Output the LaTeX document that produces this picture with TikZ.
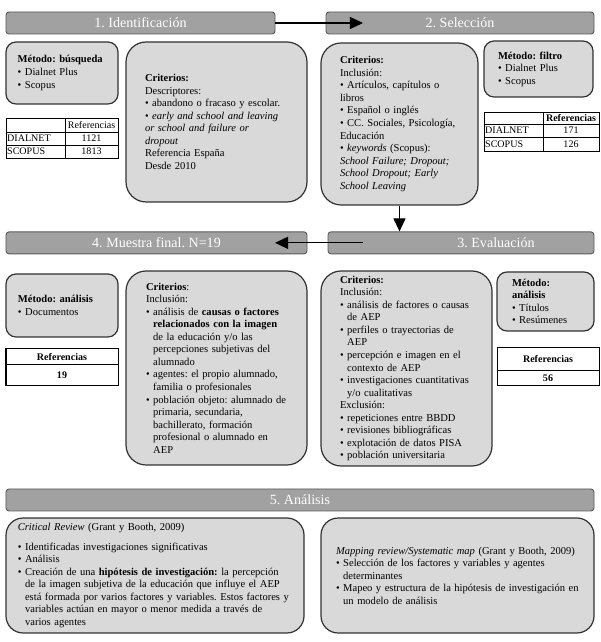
\documentclass[tikz,border=0pt]{standalone}
\usepackage{fontspec}
\setmainfont{Liberation Serif}
\usetikzlibrary{arrows.meta}
\frenchspacing

\newcommand{\bul}{\textbullet\ }
\newcommand{\ind}{\phantom{\textbullet}\ }

\begin{document}
\begin{tikzpicture}[font=\fontsize{10.5}{12.5}\selectfont,
  header/.style={draw=black!65,fill=black!37,rounded corners=3pt,line width=0.9pt,
    text=white,font=\fontsize{14}{16}\selectfont,minimum height=0.77cm,inner sep=0pt},
  panel/.style={draw=black!80,fill=black!15,line width=1.2pt,align=left,inner sep=0pt},
  metbox/.style={panel,rounded corners=10pt},
  critbox/.style={panel,rounded corners=20pt},
  sumbox/.style={panel,rounded corners=17pt},
  flow/.style={line width=1.1pt,-{Triangle[length=13pt,width=12pt]}},
  reftab/.style={line width=0.7pt},
  cell/.style={font=\fontsize{10}{12}\selectfont,inner sep=1pt}]
\useasboundingbox (0,0) rectangle (21,22.47);

% Step headers, in the order the review runs through them.
\node[header,minimum width=9.415cm] (h1) at (4.9175,21.665) {1. Identificación};
\node[header,minimum width=9.38cm] (h2) at (16.1,21.665) {2. Selección};
\node[header,minimum width=9.31cm] (h3) at (16.135,13.97) {\hspace*{2.45cm}3. Evaluación};
\node[header,minimum width=10.535cm] (h4) at (5.4775,13.97) {4. Muestra final. N=19};
\node[header,minimum width=20.58cm] (h5) at (10.5,4.97) {5. Análisis};

% Step 1: search.
\node[metbox,minimum width=3.92cm,minimum height=2.17cm,text width=3.1cm] (m1) at (2.17,19.915)
  {\textbf{Método: búsqueda}\\
   \bul Dialnet Plus\\
   \bul Scopus};
\node[critbox,minimum width=6.335cm,minimum height=5.6cm,text width=5.005cm] (c1) at (7.5775,18.2)
  {\textbf{Criterios:}\\
   Descriptores:\\
   \bul abandono o fracaso y escolar.\\
   \bul \emph{early  and school  and leaving}\\
   \emph{or  school  and failure or}\\
   \emph{dropout}\\
   Referencia España\\
   Desde 2010};

\draw[reftab] (0.21,16.94) rectangle (4.13,18.34);
\draw[reftab] (2.275,16.94) -- (2.275,18.34)
  (0.21,17.85) -- (4.13,17.85) (0.21,17.395) -- (4.13,17.395);
\node[cell] (t1-ref) at (3.2025,18.095) {Referencias};
\foreach \y/\db/\n in {17.6225/DIALNET/1121,17.1675/SCOPUS/1813}{
  \node[cell,anchor=west] (t1-\db) at (0.21,\y) {\db};
  \node[cell] (t1-\n) at (3.2025,\y) {\n};
}

% Step 2: filter.
\node[critbox,minimum width=5.495cm,minimum height=5.67cm,text width=4.165cm] (c2) at (13.9825,18.13)
  {\textbf{Criterios:}\\
   Inclusión:\\
   \bul Artículos, capítulos o\\
   libros\\
   \bul Español o inglés\\
   \bul CC. Sociales, Psicología,\\
   Educación\\
   \bul \emph{keywords}  (Scopus):\\
   \emph{School  Failure;  Dropout;}\\
   \emph{School  Dropout; Early}\\
   \emph{School  Leaving}};
\node[metbox,minimum width=3.815cm,minimum height=1.96cm,text width=2.835cm] (m2) at (18.8475,20.055)
  {\textbf{Método: filtro}\\
   \bul Dialnet Plus\\
   \bul Scopus};

\draw[reftab] (16.94,17.185) rectangle (20.965,18.55);
\draw[reftab] (19.005,17.185) -- (19.005,18.55)
  (16.94,18.13) -- (20.965,18.13) (16.94,17.675) -- (20.965,17.675);
\node[cell,font=\fontsize{10}{12}\selectfont\bfseries] (t2-ref) at (19.985,18.34) {Referencias};
\foreach \y/\db/\n in {17.9025/DIALNET/171,17.43/SCOPUS/126}{
  \node[cell,anchor=west] (t2-\db) at (16.94,\y) {\db};
  \node[cell] (t2-\n) at (19.985,\y) {\n};
}

% Step 3: evaluation.
\node[critbox,minimum width=5.985cm,minimum height=6.825cm,text width=4.655cm] (c3) at (14.2275,9.5725)
  {\textbf{Criterios:}\\
   Inclusión:\\
   \bul análisis de factores o causas\\
   \ind de AEP\\
   \bul perfiles o trayectorias de\\
   \ind AEP\\
   \bul percepción e imagen en el\\
   \ind contexto de AEP\\
   \bul investigaciones cuantitativas\\
   \ind y/o cualitativas\\
   Exclusión:\\
   \bul repeticiones entre BBDD\\
   \bul revisiones bibliográficas\\
   \bul explotación de datos PISA\\
   \bul población universitaria};
\node[metbox,minimum width=3.395cm,minimum height=2.065cm,text width=2.345cm] (m3) at (19.0925,11.9175)
  {\textbf{Método:}\\
   \textbf{análisis}\\
   \bul Títulos\\
   \bul Resúmenes};

\draw[reftab,line width=1pt] (17.395,8.96) rectangle (20.965,10.29);
\draw[reftab,line width=1pt] (17.395,9.485) -- (20.965,9.485);
\node[cell,font=\fontsize{10}{12}\selectfont\bfseries] (t3-ref) at (19.18,9.8875) {Referencias};
\node[cell,font=\fontsize{10}{12}\selectfont\bfseries] (t3-n) at (19.18,9.2225) {56};

% Step 4: final sample.
\node[metbox,minimum width=3.92cm,minimum height=2.205cm,text width=3.08cm] (m4) at (2.17,11.7775)
  {\textbf{Método: análisis}\\
   \bul Documentos};
\node[critbox,minimum width=6.335cm,minimum height=6.79cm,text width=4.935cm] (c4) at (7.5775,9.59)
  {\textbf{Criterios}:\\
   Inclusión:\\
   \bul análisis de \textbf{causas o factores}\\
   \ind \textbf{relacionados con la imagen}\\
   \ind de la educación y/o las\\
   \ind percepciones subjetivas del\\
   \ind alumnado\\
   \bul agentes: el propio alumnado,\\
   \ind familia o profesionales\\
   \bul población objeto: alumnado de\\
   \ind primaria, secundaria,\\
   \ind bachillerato, formación\\
   \ind profesional o alumnado en\\
   \ind AEP};

\draw[reftab,line width=1pt] (0.21,8.96) rectangle (4.13,10.255);
\draw[reftab,line width=1pt] (0.21,9.695) -- (4.13,9.695);
\node[cell,font=\fontsize{10}{12}\selectfont\bfseries] (t4-ref) at (2.17,9.975) {Referencias};
\node[cell,font=\fontsize{10}{12}\selectfont\bfseries] (t4-n) at (2.17,9.3275) {19};

% Step 5: analysis.
\node[sumbox,minimum width=10.43cm,minimum height=4.025cm,text width=9.6cm] (s1) at (5.425,2.3275)
  {\emph{Critical Review} (Grant y Booth, 2009)\\[7pt]
   \bul Identificadas investigaciones significativas\\
   \bul Análisis\\
   \bul Creación de una \textbf{hipótesis de investigación:} la percepción\\
   \ind de la imagen subjetiva de la educación que influye el AEP\\
   \ind está formada por varios factores y variables. Estos factores y\\
   \ind variables actúan en mayor o menor medida a través de\\
   \ind varios agentes};
\node[sumbox,minimum width=9.555cm,minimum height=4.025cm,text width=8.505cm] (s2) at (16.0125,2.3275)
  {\emph{Mapping  review/Systematic  map} (Grant y Booth, 2009)\\
   \bul Selección de los factores y variables y agentes\\
   \ind determinantes\\
   \bul Mapeo y estructura de la hipótesis de investigación en\\
   \ind un modelo de análisis};

% Flow between the steps.
\coordinate (h2in) at (12.705,21.665);
\coordinate (h3in) at (12.705,13.97);
\coordinate (h4in) at (9.625,13.97);
\draw[flow] (h1.east) -- (h2in);
\draw[flow] (c2.south) -- (c2.south |- h3.north);
\draw[flow] (h3in) -- (h4in);
\end{tikzpicture}
\end{document}
